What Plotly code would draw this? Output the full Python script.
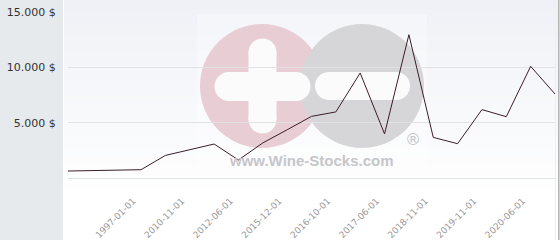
import plotly.graph_objects as go

categories = [
    "1995-01-01", "1995-06-01", "1996-06-01", "1997-01-01", "2010-06-01",
    "2010-11-01", "2011-11-01", "2012-06-01", "2015-06-01", "2015-12-01",
    "2016-06-01", "2016-10-01", "2017-01-01", "2017-06-01", "2018-06-01",
    "2018-11-01", "2019-06-01", "2019-11-01", "2020-01-01", "2020-06-01",
    "2021-01-01",
]
prices = [
    630, 650, 680, 750, 2040,
    2590, 3070, 1630, 3170, 4360,
    5570, 5970, 9490, 3980, 12950,
    3670, 3100, 6180, 5540, 10090,
    7590,
]
shown_labels = [categories[i] for i in range(3, 21, 2)]
y_ticks = [5000, 10000, 15000]
y_tick_text = ["5.000 $", "10.000 $", "15.000 $"]

W, H = 560, 240
L, R, T, B = 68, 5, 12, 62
PW, PH = W - L - R, H - T - B


def px(x):
    return (x - L) / PW


def py(y):
    return (H - B - y) / PH


shapes = []
# left grey panel
shapes.append(dict(type="rect", xref="paper", yref="paper", layer="below",
                   x0=px(0), x1=px(63), y0=py(H), y1=py(0),
                   fillcolor="#e6eaed", line=dict(width=0)))
# gradient background bands
n = 40
top_c = (239, 241, 246)
for i in range(n):
    f = i / (n - 1)
    c = tuple(round(top_c[k] + (255 - top_c[k]) * f) for k in range(3))
    y0 = i * 200 / n
    y1 = (i + 1) * 200 / n + 0.5
    shapes.append(dict(type="rect", xref="paper", yref="paper", layer="below",
                       x0=px(64), x1=px(558), y0=py(y1), y1=py(y0),
                       fillcolor="rgb(%d,%d,%d)" % c, line=dict(width=0)))

# watermark backdrop
shapes.append(dict(type="rect", xref="paper", yref="paper", layer="below",
                   x0=px(197), x1=px(427), y0=py(174), y1=py(14),
                   fillcolor="rgba(255,255,255,0.3)", line=dict(width=0)))


def circle(cx, cy, r, color):
    return dict(type="circle", xref="paper", yref="paper", layer="below",
                x0=px(cx - r), x1=px(cx + r), y0=py(cy + r), y1=py(cy - r),
                fillcolor=color, line=dict(width=0))


def rect(x0, y0, x1, y1, color):
    return dict(type="rect", xref="paper", yref="paper", layer="below",
                x0=px(x0), x1=px(x1), y0=py(y1), y1=py(y0),
                fillcolor=color, line=dict(width=0))


shapes.append(circle(262, 86, 62, "#e9cdd4"))
shapes.append(circle(362, 86, 62, "#d6d6d8"))
white = "#fbfbfc"
# plus: vertical bar
shapes.append(rect(248.5, 52.5, 276.5, 119.5, white))
shapes.append(circle(262.5, 52.5, 14, white))
shapes.append(circle(262.5, 119.5, 14, white))
# plus: horizontal bar
shapes.append(rect(229, 72, 296, 101, white))
shapes.append(circle(229, 86.5, 14.5, white))
shapes.append(circle(296, 86.5, 14.5, white))
# minus bar
shapes.append(rect(329, 72, 396, 100, white))
shapes.append(circle(329, 86, 14, white))
shapes.append(circle(396, 86, 14, white))
# right border
shapes.append(dict(type="line", xref="paper", yref="paper", layer="above",
                   x0=px(555.5), x1=px(555.5), y0=py(H), y1=py(0),
                   line=dict(color="#eeeeee", width=1)))
shapes.append(dict(type="line", xref="paper", yref="paper", layer="above",
                   x0=px(558.8), x1=px(558.8), y0=py(H), y1=py(0),
                   line=dict(color="#b0b0b0", width=1.5)))

annotations = [
    dict(text="<b>www.Wine-Stocks.com</b>", xref="paper", yref="paper",
         x=px(311.5), y=py(160.7), xanchor="center", yanchor="middle",
         showarrow=False,
         font=dict(family="Liberation Sans", size=15, color="#c6c6ca")),
    dict(text="®", xref="paper", yref="paper",
         x=px(413), y=py(139), xanchor="center", yanchor="middle",
         showarrow=False,
         font=dict(family="DejaVu Sans", size=16, color="#c6c6ca")),
]

fig = go.Figure()
fig.add_trace(go.Scatter(
    x=categories, y=prices, mode="lines",
    line=dict(color="#3b1e2b", width=1),
    hoverinfo="skip", showlegend=False,
))

fig.update_layout(
    width=W, height=H,
    margin=dict(l=L, r=R, t=T, b=B),
    paper_bgcolor="white",
    plot_bgcolor="rgba(0,0,0,0)",
    shapes=shapes,
    annotations=annotations,
    xaxis=dict(
        type="category", range=[0, 20], automargin=False,
        tickmode="array", tickvals=shown_labels, ticktext=shown_labels,
        tickangle=-45, ticks="", ticklabelstandoff=15, ticklabelshift=-8,
        tickfont=dict(family="DejaVu Sans", size=9, color="#999999"),
        showgrid=False, showline=False, zeroline=False,
    ),
    yaxis=dict(
        range=[0, 15000], automargin=False,
        tickmode="array", tickvals=y_ticks, ticktext=y_tick_text,
        ticks="outside", ticklen=9, tickcolor="rgba(0,0,0,0)",
        tickfont=dict(family="DejaVu Sans", size=11, color="#333333"),
        showgrid=True, gridcolor="#e2e2e6", gridwidth=1,
        zeroline=True, zerolinecolor="#e2e2e6", zerolinewidth=1,
        showline=False,
    ),
)

fig.write_html("out.html")
